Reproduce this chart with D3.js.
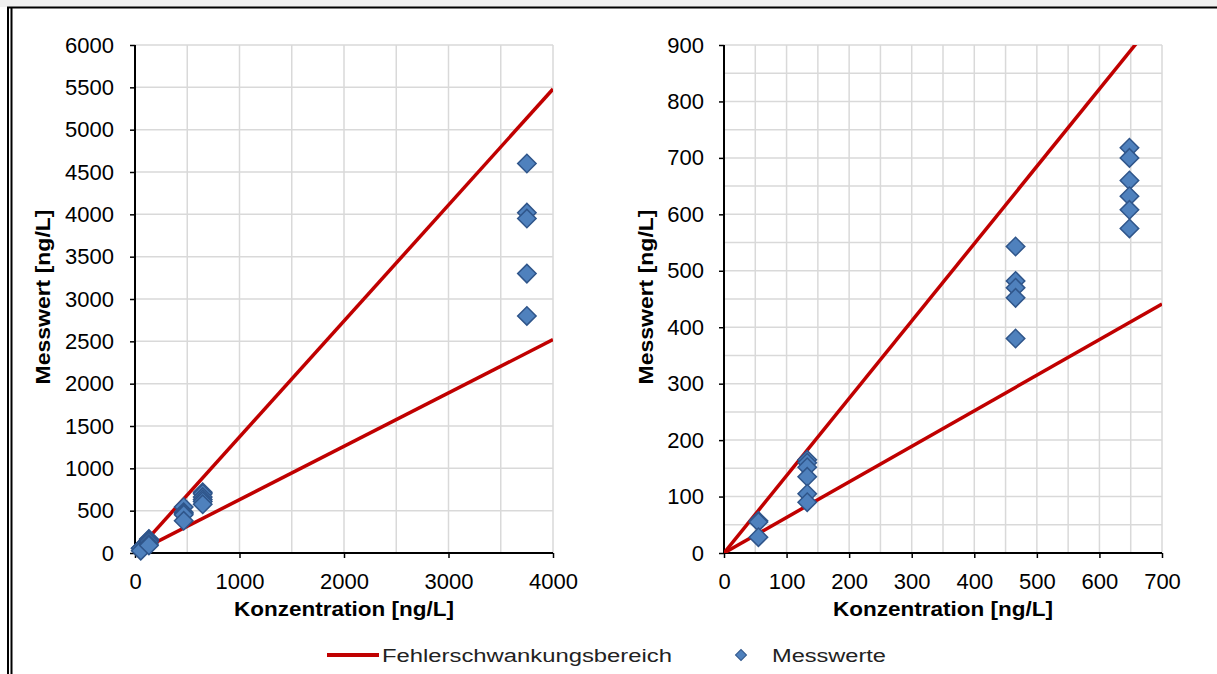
<!DOCTYPE html>
<html>
<head>
<meta charset="utf-8">
<script src="https://cdn.jsdelivr.net/npm/d3@7"></script>
<style>
  html, body { margin: 0; padding: 0; background: #fff; }
  svg { display: block; }
  text { font-family: "Liberation Sans", Arial, sans-serif; }
</style>
</head>
<body>
<svg id="chart" width="1217" height="674"></svg>
<script>
// ---- data ----
const measX = [55, 55, 55,
               133, 133, 133, 133, 133, 133,
               466, 466, 466, 466, 466,
               648, 648, 648, 648, 648, 648,
               3750, 3750, 3750, 3750, 3750];
const measY = [57, 55, 28,
               165, 160, 152, 135, 105, 90,
               543, 482, 470, 452, 380,
               718, 700, 660, 632, 608, 575,
               4600, 4020, 3950, 3300, 2800];
const upperFactor = 1.37;
const lowerFactor = 0.63;

const leftXTicks = [0, 1000, 2000, 3000, 4000];
const leftYTicks = [0, 500, 1000, 1500, 2000, 2500, 3000, 3500, 4000, 4500, 5000, 5500, 6000];
const rightXTicks = [0, 100, 200, 300, 400, 500, 600, 700];
const rightYTicks = [0, 100, 200, 300, 400, 500, 600, 700, 800, 900];

const xTitle = "Konzentration [ng/L]";
const yTitle = "Messwert [ng/L]";
const legendLine = "Fehlerschwankungsbereich";
const legendPoint = "Messwerte";

// ---- drawing ----
const svg = d3.select("#chart");
const RED = "#c00000", BLUE = "#4f81bd", BLUE_D = "#2f558a", GRID = "#d9d9d9";

// frame
svg.append("rect").attr("x", 0).attr("y", 0).attr("width", 1217).attr("height", 7).attr("fill", "#f0f0f0");
svg.append("line").attr("x1", 7).attr("x2", 1217).attr("y1", 7.5).attr("y2", 7.5).attr("stroke", "#000").attr("stroke-width", 2);
svg.append("line").attr("x1", 8).attr("x2", 8).attr("y1", 7).attr("y2", 674).attr("stroke", "#000").attr("stroke-width", 2);
svg.append("line").attr("x1", 11.5).attr("x2", 11.5).attr("y1", 7).attr("y2", 674).attr("stroke", "#000").attr("stroke-width", 2);

function panel(cfg) {
  const x = d3.scaleLinear().domain(cfg.xDomain).range(cfg.xRange);
  const y = d3.scaleLinear().domain(cfg.yDomain).range(cfg.yRange);
  const g = svg.append("g");
  const clipId = "clip" + cfg.id;
  svg.append("clipPath").attr("id", clipId).append("rect")
    .attr("x", cfg.xRange[0]).attr("y", cfg.yRange[1])
    .attr("width", cfg.xRange[1] - cfg.xRange[0]).attr("height", cfg.yRange[0] - cfg.yRange[1]);

  // grid
  const gx = d3.range(cfg.xDomain[0], cfg.xDomain[1] + 1e-9, cfg.xGridStep);
  const gy = d3.range(cfg.yDomain[0], cfg.yDomain[1] + 1e-9, cfg.yGridStep);
  g.selectAll(".gx").data(gx).join("line")
    .attr("x1", d => x(d)).attr("x2", d => x(d))
    .attr("y1", cfg.yRange[0]).attr("y2", cfg.yRange[1])
    .attr("stroke", GRID).attr("stroke-width", 1.5);
  g.selectAll(".gy").data(gy).join("line")
    .attr("x1", cfg.xRange[0]).attr("x2", cfg.xRange[1])
    .attr("y1", d => y(d)).attr("y2", d => y(d))
    .attr("stroke", GRID).attr("stroke-width", 1.5);

  // axes
  const xAxis = d3.axisBottom(x).tickValues(cfg.xTicks).tickSize(5).tickPadding(15).tickFormat(d3.format("d"));
  const yAxis = d3.axisLeft(y).tickValues(cfg.yTicks).tickSize(5).tickPadding(cfg.yPad).tickFormat(d3.format("d"));
  const ax = g.append("g").attr("transform", `translate(0,${cfg.yRange[0]})`).call(xAxis);
  const ay = g.append("g").attr("transform", `translate(${cfg.xRange[0]},0)`).call(yAxis);
  [ax, ay].forEach(a => {
    a.attr("font-size", 22).attr("font-family", "'Liberation Sans', Arial, sans-serif");
    a.select(".domain").attr("stroke", "#000").attr("stroke-width", 2);
    a.selectAll(".tick line").attr("stroke", "#000").attr("stroke-width", 1.5);
    a.selectAll(".tick text").attr("font-size", 22).attr("fill", "#000");
  });
  ax.select(".domain").attr("d", `M${cfg.xRange[0]},0H${cfg.xRange[1]}`);
  ay.select(".domain").attr("d", `M0,${cfg.yRange[0]}V${cfg.yRange[1]}`);

  // reference lines
  const xMax = cfg.xDomain[1];
  const lines = g.append("g").attr("clip-path", `url(#${clipId})`);
  [upperFactor, lowerFactor].forEach(f => {
    lines.append("line")
      .attr("x1", x(0)).attr("y1", y(0))
      .attr("x2", x(xMax)).attr("y2", y(xMax * f))
      .attr("stroke", RED).attr("stroke-width", 3.5);
  });

  // points
  const pts = measX.map((v, i) => ({ x: v, y: measY[i] }))
    .filter(p => p.x <= cfg.xDomain[1] && p.y <= cfg.yDomain[1]);
  const sym = d3.symbol().type(d3.symbolSquare).size(170);
  g.append("g").selectAll("path").data(pts).join("path")
    .attr("d", sym)
    .attr("transform", d => `translate(${x(d.x)},${y(d.y)}) rotate(45)`)
    .attr("fill", BLUE).attr("stroke", BLUE_D).attr("stroke-width", 1.5);

  // titles
  g.append("text").attr("x", (cfg.xRange[0] + cfg.xRange[1]) / 2).attr("y", 616)
    .attr("text-anchor", "middle").attr("font-size", 21).attr("font-weight", "bold")
    .attr("textLength", 220).attr("lengthAdjust", "spacingAndGlyphs").text(xTitle);
  g.append("text").attr("transform", `translate(${cfg.yTitleX},${(cfg.yRange[0] + cfg.yRange[1]) / 2 - 2}) rotate(-90)`)
    .attr("text-anchor", "middle").attr("font-size", 21).attr("font-weight", "bold")
    .attr("textLength", 175).attr("lengthAdjust", "spacingAndGlyphs").text(yTitle);
}

panel({ id: "L", xDomain: [0, 4000], yDomain: [0, 6000], xRange: [135, 553], yRange: [553, 45],
        xTicks: leftXTicks, yTicks: leftYTicks, xGridStep: 500, yGridStep: 500, yPad: 16, yTitleX: 50 });
panel({ id: "R", xDomain: [0, 700], yDomain: [0, 900], xRange: [724, 1162], yRange: [553, 45],
        xTicks: rightXTicks, yTicks: rightYTicks, xGridStep: 50, yGridStep: 50, yPad: 15, yTitleX: 653 });

// legend
const lg = svg.append("g").attr("font-family", "'DejaVu Sans', sans-serif");
lg.append("line").attr("x1", 327).attr("x2", 379).attr("y1", 655).attr("y2", 655)
  .attr("stroke", RED).attr("stroke-width", 4);
lg.append("text").attr("x", 382).attr("y", 662).attr("font-size", 18).attr("fill", "#222")
  .attr("font-family", "'DejaVu Sans', sans-serif")
  .attr("textLength", 290).attr("lengthAdjust", "spacingAndGlyphs").text(legendLine);
lg.append("path").attr("d", d3.symbol().type(d3.symbolSquare).size(60))
  .attr("transform", "translate(741,655) rotate(45)").attr("fill", BLUE).attr("stroke", BLUE_D).attr("stroke-width", 1);
lg.append("text").attr("x", 772).attr("y", 662).attr("font-size", 18).attr("fill", "#222")
  .attr("font-family", "'DejaVu Sans', sans-serif")
  .attr("textLength", 114).attr("lengthAdjust", "spacingAndGlyphs").text(legendPoint);
</script>
</body>
</html>
